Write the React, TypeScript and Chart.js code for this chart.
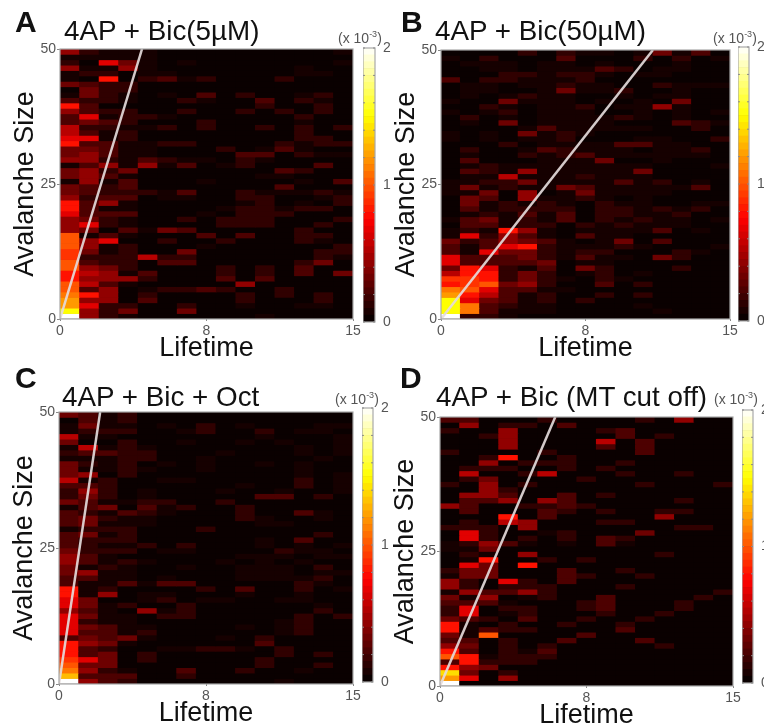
import React, { useEffect, useRef } from "react";
import { Chart, registerables } from "chart.js";

Chart.register(...registerables);

const FONT = "'Liberation Sans', Arial, sans-serif";

// Cell values in units of 1e-4; rows go from avalanche size 0 up to 49, columns are lifetime bins.
const cellsA: number[][] = [
  [20,5,2,1,0,0,0,0,0,0,1,0,0,0,0],
  [15,5,2,4,0,0,4,0,0,0,0,0,0,0,0],
  [12,7,2,2,0,0,2,0,0,1,0,0,1,1,0],
  [12,5,5,0,3,0,0,0,0,2,0,0,0,2,0],
  [11,8,5,0,2,0,0,0,0,2,0,2,0,2,0],
  [10,3,5,0,1,2,2,3,2,0,0,2,0,0,0],
  [10,6,3,1,0,0,0,0,0,5,0,0,0,0,0],
  [8,5,5,5,2,0,0,0,3,0,3,0,0,0,0],
  [8,6,5,1,3,0,0,0,2,0,2,0,3,0,4],
  [10,5,4,2,0,0,0,0,2,0,2,0,3,0,0],
  [10,3,2,2,0,3,3,0,0,0,0,0,2,4,0],
  [9,2,2,2,6,2,2,0,0,0,0,0,0,2,1],
  [9,4,1,2,0,0,4,0,0,0,0,0,0,2,2],
  [10,5,1,2,0,0,0,1,0,0,0,0,0,0,2],
  [10,5,7,0,0,2,0,0,2,0,0,0,2,1,0],
  [10,1,3,1,0,0,0,3,0,3,0,0,2,2,0],
  [5,4,0,3,1,4,3,0,0,0,0,0,2,0,0],
  [5,7,2,1,0,0,0,0,2,2,2,0,0,2,0],
  [5,4,2,1,0,0,2,0,2,2,2,0,0,0,2],
  [7,3,3,3,0,0,0,1,0,2,2,2,0,0,0],
  [8,3,1,1,0,0,0,0,1,2,2,1,2,2,0],
  [8,3,5,1,0,0,0,0,0,1,2,0,1,0,2],
  [5,2,3,3,0,1,1,0,0,2,2,0,0,1,2],
  [4,3,2,2,2,1,3,0,0,2,1,1,1,2,1],
  [4,3,2,3,0,0,0,0,0,0,0,3,0,0,0],
  [1,5,1,3,0,0,0,1,0,0,0,0,1,0,3],
  [4,5,3,1,0,0,0,0,0,0,1,1,0,0,0],
  [4,5,2,4,0,0,0,0,0,0,0,3,2,0,0],
  [1,3,5,1,5,1,3,0,1,2,0,0,0,3,0],
  [5,5,2,1,3,2,1,1,0,2,1,0,0,0,0],
  [4,5,3,1,1,0,0,0,0,3,3,0,2,1,1],
  [4,4,3,1,1,0,0,0,2,0,1,3,1,0,0],
  [8,3,3,1,1,2,2,0,0,0,0,2,1,2,2],
  [7,7,1,2,0,0,0,0,0,0,0,0,2,2,0],
  [6,3,1,2,0,0,0,0,0,0,0,0,2,0,0],
  [6,2,2,1,1,2,0,2,0,0,2,0,2,0,2],
  [3,4,3,2,0,0,0,2,0,0,0,0,1,0,0],
  [3,7,1,2,2,1,0,0,0,0,0,0,2,0,0],
  [5,3,2,2,0,0,2,0,0,2,0,2,0,2,0],
  [8,3,0,0,0,0,0,0,0,0,2,0,0,2,0],
  [3,2,2,1,0,0,2,1,0,0,3,0,2,1,0],
  [1,4,2,1,0,1,0,3,0,2,0,0,1,2,0],
  [0,4,2,2,0,0,0,0,0,0,0,0,0,0,0],
  [4,3,2,2,0,0,0,0,0,0,0,0,0,0,0],
  [1,0,8,0,2,3,1,2,0,0,0,2,0,0,0],
  [1,2,2,0,1,1,0,0,0,0,0,0,1,1,0],
  [5,1,1,5,1,0,0,0,0,0,0,0,1,0,0],
  [2,0,7,4,1,0,1,0,0,0,0,0,0,0,1],
  [1,1,1,1,1,0,0,0,0,0,0,0,0,0,0],
  [5,2,1,1,1,0,0,0,0,0,0,0,0,0,1],
];

const cellsB: number[][] = [
  [20,2,2,1,0,0,0,0,0,0,0,0,0,0,0],
  [15,11,3,1,1,1,0,0,0,0,0,1,0,0,0],
  [15,11,3,2,1,1,0,0,0,0,1,0,0,0,0],
  [15,7,4,3,1,2,0,2,0,0,0,0,0,0,0],
  [12,8,6,3,1,2,0,0,2,0,2,0,0,0,0],
  [11,10,7,3,3,1,1,0,0,0,0,0,0,0,0],
  [8,9,10,4,5,2,0,0,3,0,2,0,0,0,0],
  [9,9,8,2,4,2,1,0,2,1,0,0,0,0,0],
  [6,8,8,2,4,2,0,1,2,0,1,0,0,0,0],
  [4,8,7,2,1,3,0,4,2,0,0,0,2,0,0],
  [7,3,3,3,3,4,0,1,1,0,0,0,0,0,0],
  [7,3,3,3,4,2,1,3,1,1,0,4,2,0,0],
  [3,1,7,4,4,2,1,2,2,0,0,0,2,1,0],
  [3,1,3,7,8,2,1,1,1,2,1,0,0,0,1],
  [4,2,3,5,4,3,1,0,1,4,0,3,0,0,0],
  [1,7,2,5,3,1,0,3,1,1,0,0,0,0,0],
  [1,2,1,8,5,1,0,1,1,1,1,3,0,1,0],
  [0,3,3,1,2,2,0,2,1,2,1,1,1,0,0],
  [1,3,4,1,2,1,3,0,2,1,2,1,1,0,1],
  [0,1,2,1,3,1,3,0,2,2,1,1,2,0,0],
  [0,3,1,2,2,2,2,0,2,2,1,2,1,2,0],
  [0,4,1,2,1,2,1,0,2,1,1,0,0,1,1],
  [0,4,3,0,5,1,1,2,1,0,1,0,0,0,0],
  [1,1,4,0,5,0,1,4,1,1,1,1,0,0,0],
  [1,4,1,2,1,1,4,3,1,1,1,1,1,3,0],
  [1,1,2,2,4,1,1,1,1,3,1,2,0,1,0],
  [0,1,1,6,1,1,1,2,1,1,1,0,0,0,0],
  [0,3,2,1,5,1,1,1,1,1,4,0,0,0,0],
  [0,1,2,1,1,1,1,1,1,1,1,0,0,0,1],
  [0,3,0,0,0,1,1,1,4,0,0,1,0,0,0],
  [0,1,0,0,2,1,2,3,1,1,1,1,1,1,0],
  [0,2,0,0,1,3,2,1,1,1,0,1,1,2,0],
  [0,0,0,2,0,1,1,1,1,3,3,1,1,0,0],
  [1,0,1,0,1,1,2,0,0,0,1,1,0,0,2],
  [1,0,1,0,4,1,2,1,0,0,0,0,0,0,0],
  [0,0,0,0,1,3,1,1,1,1,1,0,0,2,0],
  [0,1,0,4,0,1,1,1,1,0,0,0,3,2,1],
  [0,2,0,1,0,1,1,1,1,2,1,0,1,0,0],
  [1,0,1,2,0,1,1,1,0,0,1,0,1,0,1],
  [0,0,2,1,0,1,1,2,0,1,1,5,1,0,0],
  [1,0,0,4,1,1,1,0,1,0,1,0,4,0,0],
  [0,1,0,1,2,1,1,0,0,1,0,1,1,0,0],
  [0,1,1,0,0,1,4,1,1,2,0,0,1,0,0],
  [0,1,1,0,1,1,2,1,1,0,0,2,1,1,1],
  [3,0,2,2,1,1,1,2,0,0,0,0,0,0,0],
  [0,0,0,2,2,1,2,2,1,0,1,1,0,0,0],
  [0,0,1,1,0,1,1,1,3,2,0,1,1,0,0],
  [0,1,1,1,0,1,1,0,1,0,0,0,1,0,0],
  [1,0,2,0,0,0,3,0,0,0,2,0,2,0,1],
  [0,0,0,0,2,0,2,1,1,0,1,4,1,3,0],
];

const cellsC: number[][] = [
  [20,5,3,2,0,0,0,0,0,0,0,1,0,0,0],
  [13,3,3,3,0,0,2,0,0,0,0,0,0,0,0],
  [11,5,2,1,0,0,3,0,0,2,0,0,1,0,0],
  [10,4,4,0,0,0,0,0,0,0,2,0,0,2,0],
  [9,7,4,0,2,0,0,0,0,0,2,0,0,0,0],
  [8,3,4,0,2,0,0,0,0,0,0,2,0,2,0],
  [8,3,2,0,0,1,1,2,2,1,0,2,0,0,0],
  [8,5,4,1,0,0,0,0,0,0,3,0,0,0,0],
  [3,4,3,4,1,0,0,0,1,0,2,0,0,0,0],
  [7,3,3,1,2,0,0,0,0,0,0,1,2,0,0],
  [7,4,3,1,1,0,0,0,0,1,0,1,2,0,0],
  [7,2,1,1,0,0,0,0,0,0,0,1,2,0,0],
  [7,4,1,1,0,2,2,0,0,0,0,0,2,0,2],
  [5,3,1,0,5,1,2,0,0,0,0,0,0,2,0],
  [7,4,1,2,0,0,2,0,0,0,0,0,0,1,0],
  [7,4,0,0,1,2,0,1,1,0,0,1,1,0,0],
  [8,1,5,0,1,1,0,0,0,1,0,0,1,0,0],
  [8,1,2,0,0,0,0,2,0,3,0,0,2,0,1],
  [3,1,1,3,1,3,3,0,0,0,0,0,2,1,0],
  [3,3,1,1,0,1,0,0,0,1,1,1,1,2,0],
  [4,5,1,1,0,0,0,0,0,1,1,1,0,1,1],
  [4,1,2,1,0,0,1,0,0,1,1,1,0,2,0],
  [5,3,1,2,1,0,0,0,1,0,1,0,1,0,0],
  [5,3,1,0,0,0,0,0,0,1,1,1,0,1,1],
  [4,2,2,2,0,1,1,0,0,0,0,2,1,1,0],
  [3,2,1,1,2,0,2,0,0,0,1,0,1,0,1],
  [3,2,2,2,0,0,0,0,0,0,1,0,3,0,0],
  [3,4,1,2,0,0,0,0,0,0,0,0,0,2,0],
  [1,2,2,2,0,0,0,2,0,0,0,0,0,0,0],
  [3,4,1,1,1,0,0,0,0,0,1,1,0,0,0],
  [3,4,2,1,1,0,0,0,0,2,1,0,0,1,0],
  [3,2,1,3,2,1,0,0,0,2,0,0,3,1,0],
  [1,3,4,0,3,1,2,0,0,2,0,0,0,0,0],
  [4,3,1,1,2,2,0,0,2,0,0,0,0,0,0],
  [2,4,2,0,1,0,0,0,0,0,3,3,0,2,0],
  [2,5,2,0,1,0,0,0,1,0,0,1,0,0,1],
  [3,3,2,0,0,0,0,0,0,1,0,0,2,0,1],
  [6,1,2,0,0,1,1,0,0,0,0,0,2,0,1],
  [4,5,0,2,0,0,0,0,0,0,0,0,1,0,1],
  [4,1,1,2,1,0,0,1,0,0,0,0,1,0,0],
  [4,2,1,2,0,1,0,1,0,0,1,0,1,0,0],
  [1,1,1,2,2,0,0,1,0,0,0,0,0,1,0],
  [2,3,3,2,2,0,0,0,1,0,0,0,1,0,1],
  [1,6,1,2,1,0,0,0,0,0,0,0,1,0,1],
  [4,0,0,2,0,0,1,0,0,1,0,1,0,0,1],
  [6,1,1,0,0,0,0,0,0,0,1,0,0,0,1],
  [1,2,2,2,0,0,1,2,0,0,2,0,1,1,0],
  [1,4,1,1,0,1,0,2,0,1,0,0,0,1,1],
  [0,3,1,2,0,0,0,0,0,0,0,0,0,0,0],
  [4,3,1,2,0,0,0,0,0,0,0,0,0,0,0],
];

const cellsD: number[][] = [
  [20,0,0,0,0,0,0,0,0,0,0,0,0,0,0],
  [12,7,0,5,0,0,0,0,0,0,0,0,0,0,0],
  [14,4,0,2,0,0,0,0,0,0,0,0,0,0,0],
  [8,5,4,0,0,0,0,0,0,0,0,0,0,0,0],
  [3,8,2,2,2,0,0,0,0,0,0,0,0,0,0],
  [10,8,1,2,2,2,0,0,0,0,0,0,0,0,0],
  [8,3,0,2,1,3,0,0,0,0,0,0,0,0,0],
  [5,4,0,2,0,2,0,0,0,0,0,2,0,0,0],
  [3,3,0,2,0,0,3,0,0,0,3,0,0,0,0],
  [4,1,10,0,0,0,0,3,0,0,0,0,0,0,0],
  [8,1,3,2,2,0,0,0,0,3,0,0,0,0,0],
  [8,1,0,2,0,0,2,0,0,2,0,0,0,0,0],
  [4,3,2,0,3,0,0,2,0,0,2,0,0,0,0],
  [2,7,0,1,2,0,0,0,2,0,0,2,0,0,0],
  [2,7,0,2,2,0,0,2,3,0,0,0,2,0,0],
  [3,3,3,1,0,0,0,2,3,0,0,0,2,0,0],
  [4,1,5,0,1,2,0,0,3,0,0,0,0,2,0],
  [1,5,3,3,5,2,0,0,0,0,0,0,0,0,2],
  [5,2,0,2,2,2,0,0,0,2,0,0,0,0,0],
  [5,2,0,7,2,0,3,0,0,0,0,0,0,0,0],
  [1,4,4,0,0,0,3,2,0,0,2,0,0,0,0],
  [2,4,4,0,0,0,3,0,0,2,0,0,0,0,0],
  [0,7,4,0,8,0,0,0,0,0,0,0,0,0,0],
  [0,1,8,0,0,2,0,2,0,0,0,0,0,0,0],
  [0,2,1,0,5,0,0,0,0,0,0,2,0,0,0],
  [1,1,4,0,0,0,0,0,0,0,0,0,0,0,0],
  [1,2,5,3,1,0,1,0,3,1,0,0,0,0,0],
  [0,7,2,0,2,0,2,0,3,2,0,0,0,0,0],
  [0,7,2,0,0,1,2,0,0,0,4,0,0,0,0],
  [2,2,2,0,5,0,0,0,0,0,0,0,2,2,0],
  [0,2,0,6,5,0,0,0,2,2,0,0,0,0,0],
  [0,0,0,8,0,3,0,0,0,0,0,5,0,0,0],
  [0,3,0,0,0,3,2,0,2,0,0,2,2,0,0],
  [5,3,0,0,2,2,3,2,0,0,0,0,0,0,0],
  [0,3,3,5,0,5,3,0,0,0,0,0,2,0,0],
  [0,5,5,3,0,0,3,0,2,0,0,0,0,0,0],
  [0,0,5,2,0,0,0,0,0,0,0,0,0,0,0],
  [2,0,5,0,2,0,0,0,0,0,2,0,0,0,2],
  [0,2,4,0,0,0,0,2,0,0,0,0,0,0,0],
  [0,6,0,0,2,6,0,0,0,2,0,0,2,0,0],
  [0,2,2,2,0,0,2,0,2,0,0,0,0,0,0],
  [0,0,5,0,2,2,2,0,0,2,0,0,0,0,0],
  [0,0,2,8,0,0,2,0,0,0,0,0,0,0,0],
  [2,0,0,0,0,2,0,0,0,0,3,0,0,0,0],
  [0,0,0,5,0,0,0,0,3,0,3,0,0,0,0],
  [0,0,0,5,0,0,0,0,6,0,3,0,0,0,0],
  [0,0,2,5,0,0,0,0,0,3,0,2,0,0,0],
  [2,0,0,5,0,0,0,0,2,3,0,0,0,0,0],
  [0,5,0,2,2,0,3,0,0,0,0,0,0,0,0],
  [3,3,0,0,0,2,0,0,0,0,2,0,5,0,0],
];

// Fitted line end (lifetime reached at avalanche size 50) for each panel.
const lineStart = [0, 0];
const lineEndA = [4.2, 50];
const lineEndB = [11, 50];
const lineEndC = [2.1, 50];
const lineEndD = [5.9, 50];

const xTickValues = [0, 7.5, 15];
const xTickLabels = ["0", "8", "15"];
const yTickValues = [0, 25, 50];
const colorbarMajor = [0, 1, 2];
const colorbarLevels = [
  0, 0.05, 0.1, 0.15, 0.2, 0.25, 0.3, 0.35, 0.4, 0.45, 0.5, 0.55, 0.6, 0.65, 0.7, 0.75, 0.8, 0.85, 0.9, 0.95,
  1, 1.05, 1.1, 1.15, 1.2, 1.25, 1.3, 1.35, 1.4, 1.45, 1.5, 1.55, 1.6, 1.65, 1.7, 1.75, 1.8, 1.85, 1.9, 1.95,
];
const colorbarStep = 0.05;

// "hot" colour map, t in 0..1
function hot(t: number): string {
  const c = (x: number) => Math.max(0, Math.min(1, x));
  const r = Math.max(10, Math.round(255 * c(t / 0.375)));
  const g = Math.round(255 * c((t - 0.375) / 0.375));
  const b = Math.round(255 * c((t - 0.75) / 0.25));
  return `rgb(${r},${g},${b})`;
}

// My readings of faint cells run high, so low values are damped before colouring.
function cellColor(v: number): string {
  return hot((v * (0.6 + 0.4 * Math.min(1, v / 8))) / 20);
}

const framePlugin = {
  id: "frame",
  beforeDatasetsDraw(chart: any) {
    const { ctx, chartArea: a } = chart;
    ctx.save();
    ctx.fillStyle = "#0a0000";
    ctx.fillRect(a.left, a.top, a.width, a.height);
    ctx.restore();
  },
  afterDraw(chart: any) {
    const { ctx, chartArea: a } = chart;
    ctx.save();
    ctx.strokeStyle = "#a8a8a8";
    ctx.lineWidth = 1.2;
    ctx.strokeRect(a.left, a.top, a.width, a.height);
    const yScale = chart.scales.y;
    if (chart.options.plugins.frame?.insetTicks) {
      ctx.strokeStyle = "#8a8a8a";
      ctx.lineWidth = 1;
      yScale.ticks.forEach((t: any) => {
        const y = yScale.getPixelForValue(t.value);
        ctx.beginPath();
        ctx.moveTo(a.left, y);
        ctx.lineTo(a.left + 2, y);
        ctx.moveTo(a.right, y);
        ctx.lineTo(a.right - 2, y);
        ctx.stroke();
      });
    }
    ctx.restore();
  },
};

type PanelProps = {
  letter: string;
  letterPos: [number, number];
  title: string;
  titlePos: [number, number];
  capPos: [number, number];
  plot: [number, number, number, number];
  bar: [number, number, number, number];
  cells: number[][];
  lineEnd: number[];
};

const AXIS_W = 62;
const X_AXIS_H = 46;
const PAD_TOP = 10;
const PAD_RIGHT = 14;
const BAR_PAD = 6;
const BAR_AXIS_W = 24;
const BLUR = "blur(0.7px)";

function Panel({ letter, letterPos, title, titlePos, capPos, plot, bar, cells, lineEnd }: PanelProps) {
  const mainRef = useRef<HTMLCanvasElement>(null);
  const barRef = useRef<HTMLCanvasElement>(null);

  useEffect(() => {
    const tickFont = { family: FONT, size: 14 };
    const cellData = cells.flatMap((row, r) =>
      row.map((v, c) => ({ x: c + 0.5, y: [r, r + 1], v })),
    );
    const main = new Chart(mainRef.current!, {
      type: "bar",
      data: {
        datasets: [
          {
            type: "line",
            data: [
              { x: lineStart[0], y: lineStart[1] },
              { x: lineEnd[0], y: lineEnd[1] },
            ],
            borderColor: "rgba(228,218,218,0.92)",
            borderWidth: 2.5,
            pointRadius: 0,
            order: 0,
          },
          {
            type: "bar",
            data: cellData,
            barPercentage: 1,
            categoryPercentage: 1,
            grouped: false,
            borderWidth: 0,
            backgroundColor: (ctx: any) => cellColor(ctx.raw?.v ?? 0),
            order: 1,
          },
        ],
      } as any,
      options: {
        responsive: false,
        animation: false,
        layout: { padding: { top: PAD_TOP, right: PAD_RIGHT, left: 0, bottom: 0 } },
        plugins: { legend: { display: false }, tooltip: { enabled: false } },
        scales: {
          x: {
            type: "linear",
            min: 0,
            max: 15,
            offset: false,
            grid: { drawOnChartArea: false, drawTicks: true, tickLength: 2, color: "#888", offset: false },
            border: { display: false },
            afterBuildTicks: (s: any) => {
              s.ticks = xTickValues.map((value) => ({ value }));
            },
            afterFit: (s: any) => {
              s.height = X_AXIS_H;
            },
            ticks: {
              autoSkip: false,
              maxRotation: 0,
              padding: 2,
              color: "#555",
              font: tickFont,
              callback: (v: any) => xTickLabels[xTickValues.indexOf(Number(v))],
            },
            title: {
              display: true,
              text: "Lifetime",
              color: "#111",
              font: { family: FONT, size: 27 },
              padding: 0,
            },
          },
          y: {
            type: "linear",
            min: 0,
            max: 50,
            grid: { drawOnChartArea: false, drawTicks: true, tickLength: 3, color: "#888" },
            border: { display: false },
            afterBuildTicks: (s: any) => {
              s.ticks = yTickValues.map((value) => ({ value }));
            },
            afterFit: (s: any) => {
              s.width = AXIS_W;
            },
            ticks: { autoSkip: false, padding: 1, color: "#555", font: tickFont },
            title: {
              display: true,
              text: "Avalanche Size",
              color: "#111",
              font: { family: FONT, size: 27 },
              padding: { top: 11, bottom: 0 },
            },
          },
        },
      } as any,
      plugins: [framePlugin],
    });

    const barChart = new Chart(barRef.current!, {
      type: "bar",
      data: {
        labels: ["scale"],
        datasets: colorbarLevels.map((lo) => ({
          data: [[lo, lo + colorbarStep]],
          backgroundColor: hot((lo + colorbarStep / 2) / 2),
          barPercentage: 1,
          categoryPercentage: 1,
          grouped: false,
          borderWidth: 0,
        })),
      } as any,
      options: {
        responsive: false,
        animation: false,
        layout: { padding: { top: BAR_PAD, bottom: BAR_PAD } },
        plugins: {
          legend: { display: false },
          tooltip: { enabled: false },
          frame: { insetTicks: true },
        },
        scales: {
          x: { display: false },
          y: {
            position: "right",
            min: 0,
            max: 2,
            grid: { display: false, drawTicks: false },
            border: { display: false },
            afterFit: (s: any) => {
              s.width = BAR_AXIS_W;
              s.paddingTop = 0;
              s.paddingBottom = 0;
            },
            ticks: {
              stepSize: 0.2,
              autoSkip: false,
              padding: 8,
              color: "#555",
              font: tickFont,
              callback: (v: any) => {
                const n = colorbarMajor.find((m) => Math.abs(m - Number(v)) < 1e-6);
                return n === undefined ? "" : String(n);
              },
            },
          },
        },
      } as any,
      plugins: [framePlugin],
    });

    return () => {
      main.destroy();
      barChart.destroy();
    };
  }, []);

  const [px, py, pw, ph] = plot;
  const [bx, by, bw, bh] = bar;
  const mainW = AXIS_W + pw + PAD_RIGHT;
  const mainH = PAD_TOP + ph + X_AXIS_H;
  const barW = bw + BAR_AXIS_W;
  const barH = bh + BAR_PAD * 2;

  return (
    <>
      <canvas
        ref={mainRef}
        width={mainW}
        height={mainH}
        style={{ position: "absolute", left: px - AXIS_W, top: py - PAD_TOP, width: mainW, height: mainH, filter: BLUR }}
      />
      <canvas
        ref={barRef}
        width={barW}
        height={barH}
        style={{ position: "absolute", left: bx, top: by - BAR_PAD, width: barW, height: barH, filter: BLUR }}
      />
      <div style={{ position: "absolute", left: letterPos[0], top: letterPos[1], transform: "translateY(-50%)", font: `bold 30px ${FONT}`, color: "#111", lineHeight: 1 }}>
        {letter}
      </div>
      <div style={{ position: "absolute", left: titlePos[0], top: titlePos[1], transform: "translateY(-50%)", font: `27.8px ${FONT}`, color: "#111", lineHeight: 1, whiteSpace: "nowrap" }}>
        {title}
      </div>
      <div style={{ position: "absolute", left: capPos[0], top: capPos[1], transform: "translateY(-50%)", font: `14px ${FONT}`, color: "#555", lineHeight: 1, whiteSpace: "nowrap" }}>
        (x 10<sup style={{ fontSize: 9, lineHeight: 0 }}>-3</sup>)
      </div>
    </>
  );
}

export default function App() {
  return (
    <div style={{ position: "absolute", left: 0, top: 0, width: 764, height: 725, overflow: "hidden", background: "#fff" }}>
      <Panel letter="A" letterPos={[15, 22]} title="4AP + Bic(5µM)" titlePos={[64, 31]} capPos={[338, 38]}
        plot={[60, 49, 293, 270]} bar={[363, 48, 12, 274]} cells={cellsA} lineEnd={lineEndA} />
      <Panel letter="B" letterPos={[401, 22]} title="4AP + Bic(50µM)" titlePos={[435, 31]} capPos={[713, 38]}
        plot={[441, 50, 289, 269]} bar={[738, 47, 11, 274]} cells={cellsB} lineEnd={lineEndB} />
      <Panel letter="C" letterPos={[15, 378]} title="4AP + Bic + Oct" titlePos={[62, 397]} capPos={[335, 399]}
        plot={[59, 412, 294, 272]} bar={[362, 408, 11, 274]} cells={cellsC} lineEnd={lineEndC} />
      <Panel letter="D" letterPos={[400, 378]} title="4AP + Bic (MT cut off)" titlePos={[436, 397]} capPos={[714, 399]}
        plot={[440, 417, 293, 269]} bar={[742, 410, 11, 273]} cells={cellsD} lineEnd={lineEndD} />
    </div>
  );
}
